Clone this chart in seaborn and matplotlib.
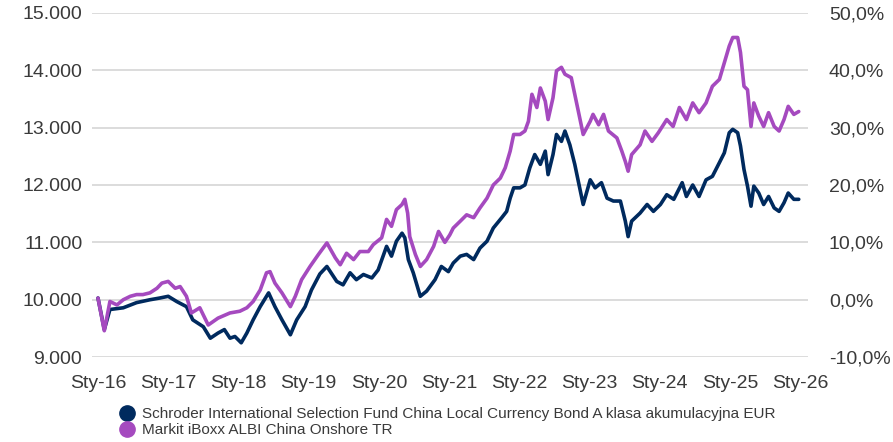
import numpy as np
import pandas as pd
import matplotlib
matplotlib.use("Agg")
import matplotlib.pyplot as plt
from matplotlib.lines import Line2D
from matplotlib.ticker import FuncFormatter
import seaborn as sns

# --- data (x in decimal years, value of 10.000 invested) ---
fund_name = "Schroder International Selection Fund China Local Currency Bond A klasa akumulacyjna EUR"
index_name = "Markit iBoxx ALBI China Onshore TR"

fund_years = [
    2016.00, 2016.09, 2016.17, 2016.36, 2016.55, 2016.74, 2016.88, 2017.00, 2017.12, 2017.26,
    2017.35, 2017.50, 2017.60, 2017.71, 2017.80, 2017.88, 2017.95, 2018.04, 2018.12, 2018.21,
    2018.31, 2018.43, 2018.52, 2018.62, 2018.74, 2018.83, 2018.95, 2019.04, 2019.16, 2019.26,
    2019.40, 2019.49, 2019.59, 2019.68, 2019.78, 2019.90, 2019.99, 2020.11, 2020.18, 2020.25,
    2020.33, 2020.37, 2020.42, 2020.49, 2020.59, 2020.68, 2020.80, 2020.89, 2020.99, 2021.06,
    2021.16, 2021.25, 2021.35, 2021.44, 2021.54, 2021.63, 2021.75, 2021.82, 2021.87, 2021.92,
    2022.01, 2022.08, 2022.15, 2022.22, 2022.30, 2022.37, 2022.41, 2022.48, 2022.53, 2022.60,
    2022.65, 2022.72, 2022.79, 2022.86, 2022.91, 2023.01, 2023.08, 2023.17, 2023.25, 2023.34,
    2023.44, 2023.51, 2023.55, 2023.60, 2023.72, 2023.82, 2023.91, 2024.01, 2024.10, 2024.20,
    2024.32, 2024.38, 2024.47, 2024.56, 2024.66, 2024.75, 2024.85, 2024.92, 2024.99, 2025.04,
    2025.11, 2025.15, 2025.20, 2025.25, 2025.30, 2025.34, 2025.41, 2025.48, 2025.55, 2025.63,
    2025.70, 2025.77, 2025.83, 2025.91, 2025.98,
]
fund_values = [
    10030, 9480, 9830, 9860, 9950, 10000, 10030, 10060, 9970, 9880,
    9650, 9530, 9330, 9420, 9480, 9330, 9360, 9250, 9420, 9650,
    9880, 10120, 9880, 9650, 9390, 9650, 9880, 10170, 10450, 10580,
    10320, 10260, 10470, 10350, 10440, 10380, 10520, 10930, 10760, 11020,
    11160, 11080, 10700, 10470, 10060, 10150, 10350, 10580, 10490, 10640,
    10760, 10790, 10700, 10900, 11020, 11250, 11430, 11540, 11770, 11950,
    11950, 12000, 12300, 12530, 12360, 12590, 12180, 12530, 12880, 12760,
    12940, 12700, 12360, 11950, 11660, 12090, 11950, 12040, 11770, 11720,
    11720, 11370, 11100, 11370, 11510, 11660, 11540, 11660, 11830, 11750,
    12040, 11800, 12000, 11800, 12090, 12150, 12390, 12560, 12910, 12970,
    12910, 12680, 12270, 11980, 11630, 11980, 11860, 11660, 11800, 11600,
    11540, 11690, 11860, 11750, 11750,
]

index_years = [
    2016.00, 2016.09, 2016.17, 2016.27, 2016.36, 2016.46, 2016.55, 2016.64, 2016.74, 2016.84,
    2016.91, 2017.00, 2017.10, 2017.17, 2017.26, 2017.33, 2017.45, 2017.57, 2017.71, 2017.88,
    2018.02, 2018.12, 2018.21, 2018.31, 2018.40, 2018.45, 2018.52, 2018.62, 2018.74, 2018.81,
    2018.90, 2019.02, 2019.14, 2019.26, 2019.38, 2019.45, 2019.54, 2019.64, 2019.73, 2019.85,
    2019.92, 2020.04, 2020.11, 2020.18, 2020.25, 2020.33, 2020.37, 2020.41, 2020.44, 2020.52,
    2020.59, 2020.68, 2020.78, 2020.85, 2020.94, 2021.01, 2021.06, 2021.16, 2021.25, 2021.35,
    2021.44, 2021.54, 2021.63, 2021.73, 2021.80, 2021.87, 2021.92, 2022.01, 2022.08, 2022.13,
    2022.18, 2022.25, 2022.30, 2022.37, 2022.41, 2022.48, 2022.53, 2022.60, 2022.65, 2022.74,
    2022.79, 2022.84, 2022.91, 2023.01, 2023.05, 2023.13, 2023.20, 2023.27, 2023.39, 2023.46,
    2023.51, 2023.55, 2023.60, 2023.72, 2023.79, 2023.89, 2023.98, 2024.10, 2024.19, 2024.28,
    2024.38, 2024.47, 2024.56, 2024.66, 2024.75, 2024.85, 2024.92, 2024.99, 2025.04, 2025.11,
    2025.15, 2025.20, 2025.25, 2025.30, 2025.34, 2025.41, 2025.48, 2025.55, 2025.63, 2025.70,
    2025.77, 2025.83, 2025.91, 2025.98,
]
index_values = [
    10030, 9460, 9970, 9910, 10000, 10060, 10090, 10090, 10120, 10200,
    10290, 10320, 10200, 10230, 10060, 9770, 9860, 9560, 9680, 9770,
    9800, 9860, 9970, 10170, 10470, 10490, 10290, 10120, 9880, 10060,
    10350, 10580, 10790, 10990, 10730, 10610, 10810, 10700, 10840, 10840,
    10960, 11080, 11400, 11280, 11570, 11660, 11750, 11510, 11100, 10790,
    10580, 10700, 10930, 11190, 11000, 11130, 11250, 11370, 11480, 11430,
    11600, 11770, 12000, 12120, 12300, 12590, 12880, 12880, 12940, 13110,
    13580, 13350, 13690, 13460, 13140, 13520, 13990, 14050, 13930, 13870,
    13580, 13290, 12880, 13110, 13230, 13050, 13230, 12940, 12820, 12590,
    12410, 12240, 12530, 12700, 12940, 12760, 12910, 13140, 13020, 13350,
    13140, 13430, 13260, 13430, 13720, 13840, 14130, 14420, 14570, 14570,
    14310, 13720, 13660, 13020, 13430, 13200, 13020, 13260, 13020, 12940,
    13140, 13370, 13230, 13280,
]

year_ticks = list(range(2016, 2027))
year_labels = [f"Sty-{y % 100:02d}" for y in year_ticks]
left_ticks = [9000, 10000, 11000, 12000, 13000, 14000, 15000]
right_ticks = [-10, 0, 10, 20, 30, 40, 50]

NAVY = "#002a5e"
PURPLE = "#a54abf"
TEXT = "#3a3a3a"
GRID = "#d9d9d9"

df = pd.concat([
    pd.DataFrame({"year": fund_years, "value": fund_values, "series": fund_name}),
    pd.DataFrame({"year": index_years, "value": index_values, "series": index_name}),
], ignore_index=True)

sns.set_theme(style="white")
plt.rcParams["font.family"] = ["Liberation Sans", "DejaVu Sans"]

fig = plt.figure(figsize=(8.93, 4.42), dpi=100)
ax = fig.add_axes([0.103, 0.192, 0.802, 0.779])

sns.lineplot(data=df, x="year", y="value", hue="series",
             hue_order=[fund_name, index_name],
             palette=[NAVY, PURPLE], linewidth=2.6, estimator=None,
             sort=True, legend=False, ax=ax)

ax.set_xlim(2016 - 6 / 70.2, 2026 + 8 / 70.2)
ax.set_ylim(9000, 15000)
ax.set_xticks(year_ticks)
ax.set_xticklabels(year_labels)
ax.set_yticks(left_ticks)
ax.yaxis.set_major_formatter(FuncFormatter(lambda v, p: f"{v:,.0f}".replace(",", ".")))
ax.set_xlabel("")
ax.set_ylabel("")
ax.grid(axis="y", color=GRID, linewidth=1.3)
ax.set_axisbelow(True)
for s in ax.spines.values():
    s.set_visible(False)
ax.tick_params(axis="both", length=0, labelsize=14, colors=TEXT)
ax.tick_params(axis="y", pad=7)
ax.tick_params(axis="x", pad=13)

ax2 = ax.twinx()
ax2.set_ylim(-10, 50)
ax2.set_yticks(right_ticks)
ax2.yaxis.set_major_formatter(FuncFormatter(lambda v, p: f"{round(v):d},0%"))
for s in ax2.spines.values():
    s.set_visible(False)
ax2.tick_params(axis="y", length=0, labelsize=14, colors=TEXT, pad=15)

handles = [
    Line2D([], [], linestyle="none", marker="o", markersize=11, color=NAVY),
    Line2D([], [], linestyle="none", marker="o", markersize=11, color=PURPLE),
]
fig.legend(handles, [fund_name, index_name], loc="upper left",
           bbox_to_anchor=(0.127, 0.093), frameon=False, fontsize=11,
           labelcolor=TEXT, handletextpad=0.5, labelspacing=0.15,
           borderaxespad=0, handlelength=1.0)

fig.savefig("out.png", dpi=100)
